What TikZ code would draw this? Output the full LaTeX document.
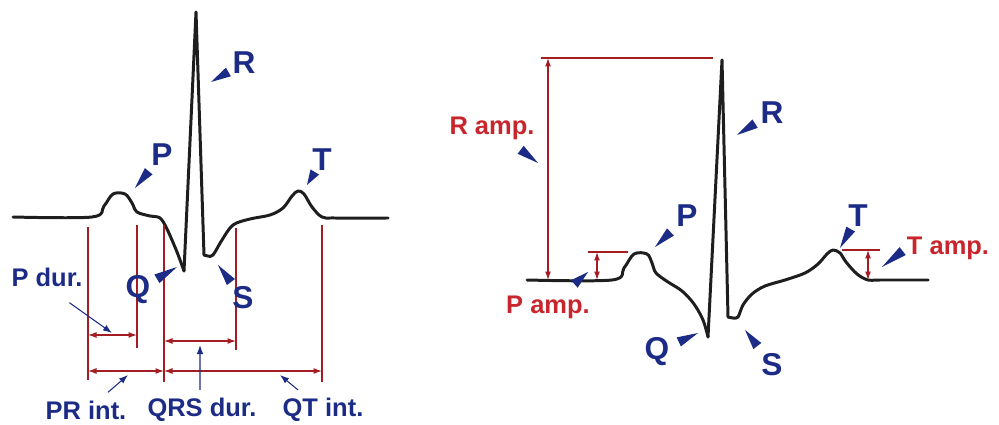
\documentclass[tikz,border=0pt]{standalone}
\usepackage{fontspec}
\setmainfont{Liberation Sans}
\usetikzlibrary{arrows.meta,calc}
\definecolor{dblue}{HTML}{1C2C86}
\definecolor{pred}{HTML}{C9252C}
\definecolor{dred}{HTML}{A31D22}
\definecolor{trace}{HTML}{1E1E1E}
\tikzset{
  % ECG trace and the red measuring lines
  wave/.style = {line width=1.7pt, trace, line join=round, line cap=round},
  ext/.style  = {dred, line width=0.6pt},
  dim/.style  = {{Latex[length=1.7mm,width=1.2mm]}-{Latex[length=1.7mm,width=1.2mm]},
                 dred, line width=0.7pt},
  ptr/.style  = {-{Latex[length=1.8mm,width=1.3mm]}, dblue, line width=0.6pt},
  peak/.style = {font=\fontsize{18}{18}\selectfont\bfseries, text=dblue, inner sep=0pt},
  tag/.style  = {font=\fontsize{14.5}{15}\selectfont\bfseries, text=dblue, inner sep=0pt},
  amp/.style  = {font=\fontsize{14.5}{15}\selectfont\bfseries, text=pred, inner sep=0pt},
}
% wedge pointer: wide end near the label, tip on the curve
\newcommand{\wedgeptr}[3]{%
  \path ($(#1)!#3!(#2)$) coordinate (wb);
  \fill[dblue] ($(wb)!0.1cm!90:(#2)$) -- ($(wb)!0.1cm!-90:(#2)$) -- (#2) -- cycle;}

\begin{document}
\begin{tikzpicture}[x=0.02cm, y=-0.02cm]
\useasboundingbox (0,0) rectangle (999,425);
% left trace
\draw[wave] plot[smooth, tension=0.55] coordinates {(13,217) (92,217) (104,206) (113,194)
  (125,194) (132,203) (137,212) (150,216) (160,218) (167,229) (177,252) (184,271)};
\draw[wave] (184,271) -- (196,12) -- (204,255);
\draw[wave] plot[smooth, tension=0.55] coordinates {(204,255) (208,256) (213,255) (222,240)
  (233,225) (250,219) (270,215) (283,208) (292,196) (298,191) (304,194) (312,207)
  (322,217) (335,218) (388,218)};
% onsets and offsets
\foreach \n/\x/\a/\b in {pon/88/227/380, poff/137/225/348, qon/164/225/382,
                         soff/236/228/350, toff/322/225/382}
  \draw[ext] (\x,\a) coordinate (\n) -- (\x,\b);
\draw[dim] (pon |- 0,335) -- (poff |- 0,335);
\draw[dim] (qon |- 0,341) -- (soff |- 0,341);
\draw[dim] (pon |- 0,371) -- (qon |- 0,371);
\draw[dim] (qon |- 0,371) -- (toff |- 0,371);
% left wave labels
\node[peak] (lRl) at (244,63) {R};
\node[peak] (lPl) at (162,155) {P};
\node[peak] (lTl) at (322,160) {T};
\node[peak] (lQl) at (138,290) {Q};
\node[peak] (lSl) at (243,298) {S};
\coordinate (lRt) at (211,82);
\coordinate (lPt) at (135,188);
\coordinate (lTt) at (307,185);
\coordinate (lQt) at (177,267);
\coordinate (lSt) at (218,265);
\wedgeptr{lRl}{lRt}{0.36cm}
\wedgeptr{lPl}{lPt}{0.42cm}
\wedgeptr{lTl}{lTt}{0.28cm}
\wedgeptr{lQl}{lQt}{0.44cm}
\wedgeptr{lSl}{lSt}{0.4cm}
% interval labels
\node[tag] (pdur) at (47,277) {P dur.};
\node[tag] (print) at (86,410) {PR int.};
\node[tag] (qrsdur) at (202,410) {QRS dur.};
\node[tag] (qtint) at (323,410) {QT int.};
\coordinate (pdt) at (112,333);
\coordinate (prt) at (128,375);
\coordinate (qrst) at (200,345);
\coordinate (qtt) at (280,375);
\draw[ptr, shorten <=0.55cm] (pdur.south) -- (pdt);
\draw[ptr] ([xshift=0.44cm, yshift=0.16cm]print.north) -- (prt);
\draw[ptr] ([xshift=-0.04cm, yshift=0.16cm]qrsdur.north) -- (qrst);
\draw[ptr] ([xshift=-0.5cm, yshift=0.16cm]qtint.north) -- (qtt);

% right trace
\draw[wave] plot[smooth, tension=0.55] coordinates {(527,280) (612,280) (624,268) (634,254)
  (647,254) (652,263) (656,273) (668,282) (682,291) (694,304) (703,320) (708,337)};
\draw[wave] (708,337) -- (722,60) coordinate (rpk) -- (728,317);
\draw[wave] plot[smooth, tension=0.55] coordinates {(728,317) (733,318) (738,317) (743,305)
  (752,294) (765,286) (785,280) (805,273) (818,264) (827,254) (833,250) (840,253)
  (846,262) (857,274) (868,280) (880,280) (928,280)};
% amplitudes
\draw[ext] (541,58) coordinate (rtop) -- (713,58);
\coordinate (rbase) at (548,280);
\draw[dim] (rtop -| rbase) -- (rbase);
\draw[ext] (588,252) coordinate (ptop) -- (628,252);
\coordinate (pbase) at (597,280);
\draw[dim] (ptop -| pbase) -- (pbase);
\draw[ext] (842,250) coordinate (ttop) -- (880,250);
\coordinate (tbase) at (868,280);
\draw[dim] (ttop -| tbase) -- (tbase);
% right wave labels
\node[peak] (rRl) at (772,113) {R};
\node[peak] (rPl) at (687,216) {P};
\node[peak] (rTl) at (858,216) {T};
\node[peak] (rQl) at (657,352) {Q};
\node[peak] (rSl) at (772,365) {S};
\coordinate (rRt) at (737,135);
\coordinate (rPt) at (655,247);
\coordinate (rTt) at (840,248);
\coordinate (rQt) at (698,333);
\coordinate (rSt) at (745,330);
\wedgeptr{rRl}{rRt}{0.4cm}
\wedgeptr{rPl}{rPt}{0.46cm}
\wedgeptr{rTl}{rTt}{0.3cm}
\wedgeptr{rQl}{rQt}{0.48cm}
\wedgeptr{rSl}{rSt}{0.48cm}
\node[amp] (ramp) at (492,128) {R amp.};
\node[amp] (pamp) at (548,307) {P amp.};
\node[amp] (tamp) at (948,248) {T amp.};
\coordinate (rat) at (538,163);
\coordinate (pat) at (588,272);
\coordinate (tat) at (882,267);
\wedgeptr{ramp}{rat}{0.72cm}
\wedgeptr{pamp}{pat}{0.7cm}
\wedgeptr{tamp.west}{tat}{0.1cm}
\end{tikzpicture}
\end{document}
